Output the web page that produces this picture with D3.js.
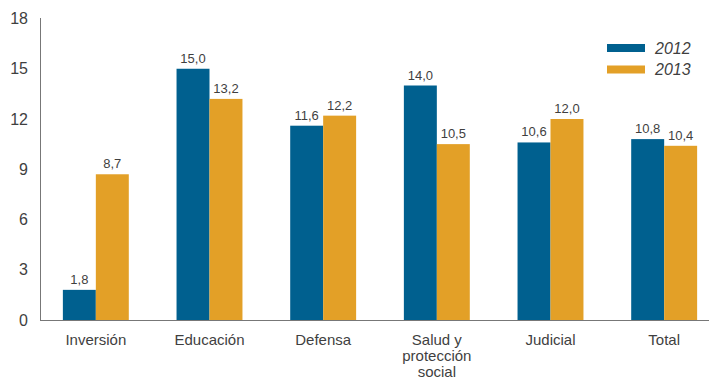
<!DOCTYPE html>
<html>
<head>
<meta charset="utf-8">
<script src="https://cdn.jsdelivr.net/npm/d3@7"></script>
<style>
  body { margin: 0; background: #fff; }
  text { font-family: "Liberation Sans", Arial, sans-serif; fill: #3f3f3f; }
</style>
</head>
<body>
<div id="chart"></div>
<script>
// data
const categories = ["Inversión", "Educación", "Defensa", "Salud y protección social", "Judicial", "Total"];
const catLines = [["Inversión"], ["Educación"], ["Defensa"], ["Salud y", "protección", "social"], ["Judicial"], ["Total"]];
const series = ["2012", "2013"];
const values2012 = [1.8, 15.0, 11.6, 14.0, 10.6, 10.8];
const values2013 = [8.7, 13.2, 12.2, 10.5, 12.0, 10.4];
const yTicks = [0, 3, 6, 9, 12, 15, 18];

const width = 709, height = 378;
const colors = { "2012": "#00608f", "2013": "#e3a027" };

const svg = d3.select("#chart").append("svg")
  .attr("width", width)
  .attr("height", height);

const x0 = d3.scaleBand()
  .domain(categories)
  .range([39, 721])
  .paddingInner(0.42)
  .paddingOuter(0.21);

const x1 = d3.scaleBand()
  .domain(series)
  .range([0, x0.bandwidth()]);

const y = d3.scaleLinear()
  .domain([0, 18])
  .range([320, 18.5]);

const data = categories.map((c, i) => ({ cat: c, vals: [
  { s: "2012", v: values2012[i] },
  { s: "2013", v: values2013[i] }
]}));

// y tick labels
svg.append("g").selectAll("text")
  .data(yTicks)
  .join("text")
  .attr("x", 28)
  .attr("y", d => y(d))
  .attr("dy", "0.35em")
  .attr("text-anchor", "end")
  .style("font-size", "16px")
  .text(d => d);

// bars
const groups = svg.append("g").selectAll("g")
  .data(data)
  .join("g")
  .attr("transform", d => `translate(${x0(d.cat)},0)`);

groups.selectAll("rect")
  .data(d => d.vals)
  .join("rect")
  .attr("x", d => x1(d.s))
  .attr("y", d => y(d.v))
  .attr("width", x1.bandwidth())
  .attr("height", d => y(0) - y(d.v))
  .attr("fill", d => colors[d.s]);

groups.selectAll("text")
  .data(d => d.vals)
  .join("text")
  .attr("x", d => x1(d.s) + x1.bandwidth() / 2)
  .attr("y", d => y(d.v) - 6)
  .attr("text-anchor", "middle")
  .style("font-size", "13px")
  .text(d => d.v.toFixed(1).replace(".", ","));

// axes lines
svg.append("line")
  .attr("x1", 40.5).attr("x2", 40.5)
  .attr("y1", 18).attr("y2", 320)
  .attr("stroke", "#777").attr("stroke-width", 1);
svg.append("line")
  .attr("x1", 40).attr("x2", width)
  .attr("y1", 320.5).attr("y2", 320.5)
  .attr("stroke", "#777").attr("stroke-width", 1);

// category labels
svg.append("g").selectAll("text")
  .data(categories)
  .join("text")
  .attr("x", d => x0(d) + x0.bandwidth() / 2)
  .attr("y", 345)
  .attr("text-anchor", "middle")
  .style("font-size", "15px")
  .each(function(d, i) {
    d3.select(this).selectAll("tspan")
      .data(catLines[i])
      .join("tspan")
      .attr("x", x0(d) + x0.bandwidth() / 2)
      .attr("dy", (t, j) => j === 0 ? 0 : 16)
      .text(t => t);
  });

// legend
const legend = svg.append("g").selectAll("g")
  .data(series)
  .join("g")
  .attr("transform", (d, i) => `translate(607,${44 + i * 21.5})`);
legend.append("rect")
  .attr("width", 38).attr("height", 8)
  .attr("fill", d => colors[d]);
legend.append("text")
  .attr("x", 48).attr("y", 4)
  .attr("dy", "0.35em")
  .style("font-size", "16px")
  .style("font-style", "italic")
  .text(d => d);
</script>
</body>
</html>
